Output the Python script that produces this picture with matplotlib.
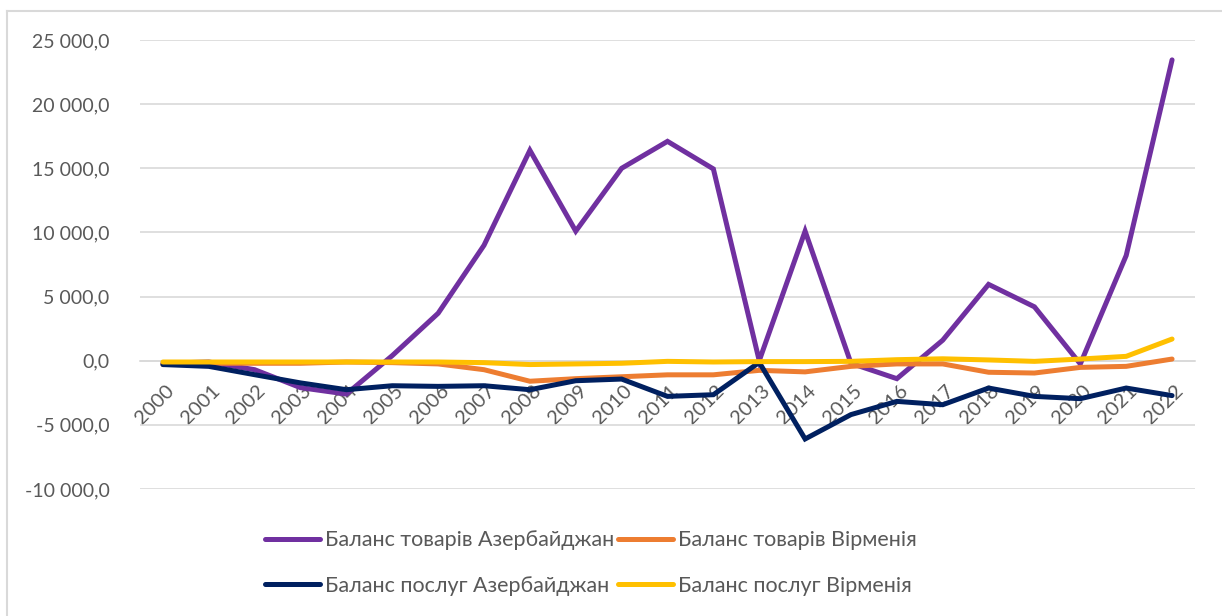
import matplotlib
matplotlib.use("Agg")
import matplotlib.pyplot as plt
import matplotlib.transforms as mtransforms
from matplotlib.ticker import FuncFormatter

plt.rcParams['font.family'] = ['Lato', 'DejaVu Sans']

years = [str(y) for y in range(2000, 2023)]

goods_az = [-200, -100, -700, -2100, -2600, 400, 3700, 9000, 16400, 10100, 15000, 17100,
            14950, 0, 10100, -200, -1400, 1600, 5950, 4200, -250, 8200, 23450]
goods_am = [-300, -200, -200, -200, -100, -150, -250, -700, -1600, -1400, -1250, -1100,
            -1100, -750, -870, -440, -250, -250, -900, -960, -520, -440, 130]
serv_az = [-300, -440, -1090, -1730, -2260, -1950, -2000, -1950, -2260, -1560, -1430, -2780,
           -2650, -130, -6100, -4200, -3170, -3430, -2130, -2780, -2960, -2130, -2720]
serv_am = [-100, -100, -100, -100, -100, -100, -100, -150, -300, -250, -200, -50,
           -100, -70, -70, -50, 80, 150, 60, -50, 130, 340, 1690]

labels = ["Баланс товарів Азербайджан", "Баланс товарів Вірменія",
          "Баланс послуг Азербайджан", "Баланс послуг Вірменія"]
colors = ["#7030A0", "#ED7D31", "#002060", "#FFC000"]
yticks = [-10000, -5000, 0, 5000, 10000, 15000, 20000, 25000]

fig = plt.figure(figsize=(12.22, 6.16), dpi=100)
ax = fig.add_axes([140/1222, 1-489/616, (1195-140)/1222, (489-40)/616])

x = list(range(len(years)))
series = [goods_az, goods_am, serv_az, serv_am]
handles = []
for s, c, l in zip(series, colors, labels):
    h, = ax.plot(x, s, color=c, lw=3.6, label=l, solid_capstyle='round', solid_joinstyle='miter')
    handles.append(h)

ax.set_xlim(-0.5, len(years) - 0.5)
ax.set_ylim(-10000, 25000)
ax.set_yticks(yticks)

def fmt(v, pos):
    s = f"{abs(v):,.1f}".replace(",", " ").replace(".", ",")
    return ("-" if v < 0 else "") + s
ax.yaxis.set_major_formatter(FuncFormatter(fmt))
ax.grid(axis='y', color='#D9D9D9', lw=1.2)
ax.set_axisbelow(True)
for sp in ['top', 'right', 'left']:
    ax.spines[sp].set_visible(False)
ax.spines['bottom'].set_position(('data', 0))
ax.spines['bottom'].set_color('#D9D9D9')
ax.spines['bottom'].set_linewidth(1.2)
ax.spines['bottom'].set_zorder(0)
ax.tick_params(axis='y', length=0, pad=22, labelsize=14, labelcolor='#595959')
ax.set_xticks(x)
ax.set_xticklabels(years)
ax.tick_params(axis='x', length=0, pad=15, labelsize=14.5, labelcolor='#595959')
offset = mtransforms.ScaledTranslation(2/100, 0, fig.dpi_scale_trans)
for t in ax.get_xticklabels():
    t.set_rotation(45)
    t.set_ha('right')
    t.set_va('top')
    t.set_rotation_mode('anchor')
    t.set_transform(t.get_transform() + offset)

order = [0, 2, 1, 3]
fig.legend([handles[i] for i in order], [labels[i] for i in order], ncol=2,
           loc='center', bbox_to_anchor=(591/1222, 1-563/616), frameon=False,
           fontsize=15.5, handlelength=2.55, handletextpad=0.25, columnspacing=0.15,
           labelspacing=1.2, labelcolor='#595959')
for h in fig.legends[0].get_lines():
    h.set_linewidth(3.6)
    h.set_solid_capstyle('round')

# chart frame
fig.add_artist(plt.Line2D([7.5/1222, 7.5/1222], [0, 1-11/616], color='#D9D9D9', lw=1.5))
fig.add_artist(plt.Line2D([7.5/1222, 1], [1-11/616, 1-11/616], color='#D9D9D9', lw=1.5))

fig.savefig("out.png", dpi=100)
